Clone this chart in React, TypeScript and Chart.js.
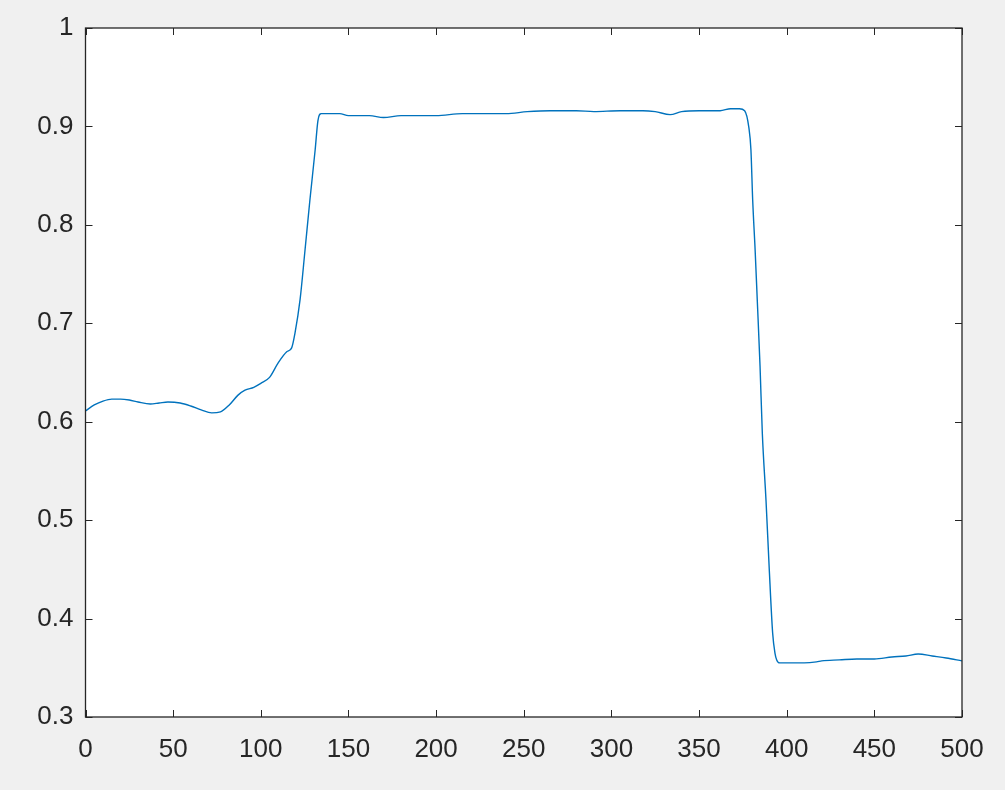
import React, { useEffect, useRef } from "react";
import { Chart, registerables } from "chart.js";

Chart.register(...registerables);

const xs = [
  0, 5, 10, 15, 20, 25, 30, 37, 42, 47, 54, 60, 66, 72, 77, 82, 87, 91, 96, 100,
  105, 110, 114.8, 117.6, 119.5, 122.4, 125.2, 128, 131, 132.6, 134.5, 137, 145, 150,
  162, 170, 180, 200, 215, 240, 252, 265, 280, 290, 305, 318, 325, 333.5, 340, 350,
  362, 368, 373, 376, 378.4, 379.6, 380.6, 382, 383.2, 384.8, 386.1, 388.2, 390, 392,
  393.3, 394.3, 396, 400, 410, 417, 420, 430, 440, 450, 460, 468, 475, 483, 491, 500,
];
const ys = [
  0.611, 0.617, 0.621, 0.623, 0.623, 0.622, 0.62, 0.618, 0.619, 0.62, 0.619, 0.616,
  0.612, 0.609, 0.61, 0.617, 0.627, 0.632, 0.635, 0.639, 0.645, 0.66, 0.671, 0.675,
  0.69, 0.724, 0.774, 0.825, 0.876, 0.906, 0.913, 0.913, 0.913, 0.911, 0.911, 0.909,
  0.911, 0.911, 0.913, 0.913, 0.915, 0.916, 0.916, 0.915, 0.916, 0.916, 0.915, 0.912,
  0.915, 0.916, 0.916, 0.918, 0.918, 0.916, 0.899, 0.876, 0.825, 0.774, 0.724, 0.656,
  0.588, 0.52, 0.452, 0.385, 0.365, 0.358, 0.355, 0.355, 0.355, 0.356, 0.357, 0.358,
  0.359, 0.359, 0.361, 0.362, 0.364, 0.362, 0.36, 0.357,
];
const xTicks = [0, 50, 100, 150, 200, 250, 300, 350, 400, 450, 500];
const yTicks = [0.3, 0.4, 0.5, 0.6, 0.7, 0.8, 0.9, 1];

const AXIS = "#262626";

const boxPlugin = {
  id: "matlabBox",
  beforeDraw(chart: any) {
    const { ctx, chartArea: a } = chart;
    ctx.save();
    ctx.fillStyle = "#ffffff";
    ctx.fillRect(a.left, a.top, a.right - a.left, a.bottom - a.top);
    ctx.restore();
  },
  afterDraw(chart: any) {
    const { ctx, chartArea: a, scales } = chart;
    const len = 7;
    ctx.save();
    ctx.strokeStyle = AXIS;
    ctx.lineWidth = 1;
    ctx.beginPath();
    xTicks.forEach((v) => {
      const px = Math.round(scales.x.getPixelForValue(v)) + 0.5;
      ctx.moveTo(px, a.bottom);
      ctx.lineTo(px, a.bottom - len);
      ctx.moveTo(px, a.top);
      ctx.lineTo(px, a.top + len);
    });
    yTicks.forEach((v) => {
      const py = Math.round(scales.y.getPixelForValue(v)) + 0.5;
      ctx.moveTo(a.left, py);
      ctx.lineTo(a.left + len, py);
      ctx.moveTo(a.right, py);
      ctx.lineTo(a.right - len, py);
    });
    ctx.stroke();
    ctx.lineWidth = 1.3;
    ctx.strokeRect(a.left, a.top, a.right - a.left, a.bottom - a.top);
    ctx.restore();
  },
};

export default function App() {
  const ref = useRef<HTMLCanvasElement>(null);
  useEffect(() => {
    document.body.style.margin = "0";
    const chart = new Chart(ref.current as HTMLCanvasElement, {
      type: "line",
      data: {
        datasets: [
          {
            data: xs.map((x, i) => ({ x, y: ys[i] })),
            borderColor: "#0072BD",
            borderWidth: 1.4,
            pointRadius: 0,
            tension: 0.4,
            cubicInterpolationMode: "monotone",
            fill: false,
          },
        ],
      },
      options: {
        animation: false,
        responsive: false,
        maintainAspectRatio: false,
        layout: { padding: { top: 28, right: 43, left: 0, bottom: 0 } },
        plugins: {
          legend: { display: false },
          tooltip: { enabled: false },
        },
        scales: {
          x: {
            type: "linear",
            min: 0,
            max: 500,
            afterBuildTicks: (s: any) => {
              s.ticks = xTicks.map((v) => ({ value: v }));
            },
            afterFit: (s: any) => {
              s.height = 73;
            },
            ticks: {
              color: AXIS,
              font: { family: "Liberation Sans, Arial, sans-serif", size: 26 },
              padding: 17,
              maxRotation: 0,
            },
            grid: { display: false, drawTicks: false },
            border: { display: false },
          },
          y: {
            type: "linear",
            min: 0.3,
            max: 1,
            afterBuildTicks: (s: any) => {
              s.ticks = yTicks.map((v) => ({ value: v }));
            },
            afterFit: (s: any) => {
              s.width = 85.5;
            },
            ticks: {
              color: AXIS,
              font: { family: "Liberation Sans, Arial, sans-serif", size: 26 },
              padding: 12,
              callback: (v: any) => String(Math.round(Number(v) * 10) / 10),
            },
            grid: { display: false, drawTicks: false },
            border: { display: false },
          },
        },
      },
      plugins: [boxPlugin],
    });
    return () => chart.destroy();
  }, []);
  return (
    <div style={{ width: 1005, height: 790, background: "#f0f0f0", position: "relative" }}>
      <canvas ref={ref} width={1005} height={790} style={{ display: "block" }} />
    </div>
  );
}
